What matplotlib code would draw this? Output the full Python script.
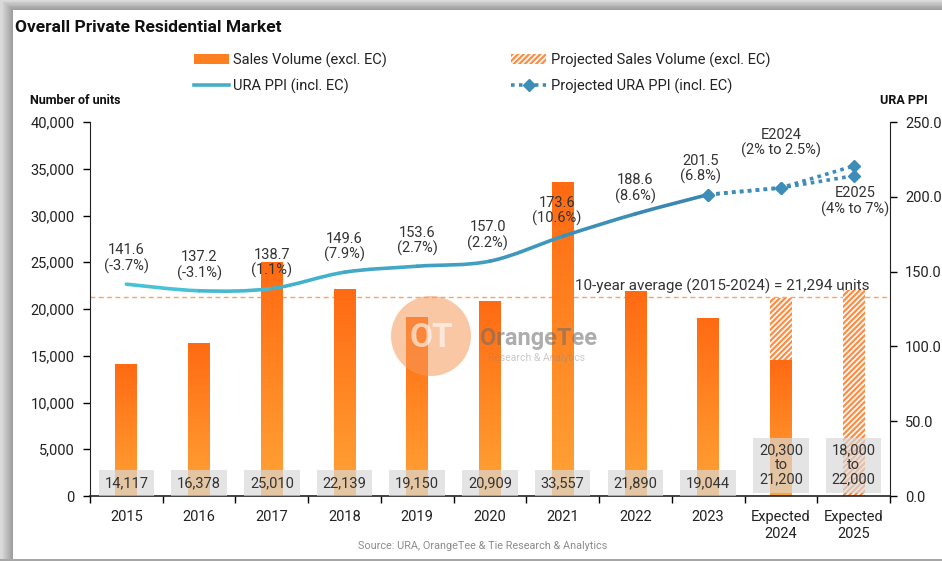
import numpy as np
import matplotlib
matplotlib.use("Agg")
import matplotlib.pyplot as plt
from matplotlib.patches import Rectangle, Patch, Circle, PathPatch
from matplotlib.lines import Line2D
from matplotlib.path import Path
from matplotlib.colors import LinearSegmentedColormap, to_rgb

plt.rcParams['font.family'] = ['Roboto', 'DejaVu Sans']
plt.rcParams['hatch.linewidth'] = 1.6

# ---- data ----
categories = ['2015', '2016', '2017', '2018', '2019', '2020', '2021', '2022', '2023',
              'Expected\n2024', 'Expected\n2025']
sales = [14117, 16378, 25010, 22139, 19150, 20909, 33557, 21890, 19044, 14500, 0]
projected_top = [None] * 9 + [21200, 22000]
sales_labels = ['14,117', '16,378', '25,010', '22,139', '19,150', '20,909', '33,557',
                '21,890', '19,044', '20,300\nto\n21,200', '18,000\nto\n22,000']
ppi = [141.6, 137.2, 138.7, 149.6, 153.6, 157.0, 173.6, 188.6, 201.5]
ppi_change = ['-3.7%', '-3.1%', '1.1%', '7.9%', '2.7%', '2.2%', '10.6%', '8.6%', '6.8%']
ppi_proj_low = [201.5, 206.0, 214.0]
ppi_proj_high = [201.5, 206.0, 220.6]
avg_sales = 21294

# label nudges (layout only)
label_dx = [0, 0, 0, 0, 0, -0.03, -0.08, 0, -0.1]

fig = plt.figure(figsize=(9.42, 5.61), dpi=100)
W, H = 942, 561

# ---- frame with shadow ----
bg = fig.add_axes([0, 0, 1, 1], zorder=-5)
bg.set_xlim(0, W)
bg.set_ylim(H, 0)
bg.axis('off')
bg.add_patch(Rectangle((0, 0), W, H, color='#d9d9d9', lw=0))
for k in range(12):
    g = 0.86 - 0.022 * k
    bg.add_patch(Rectangle((1 + k, 0.8 * k), W, H, color=(g, g, g), lw=0))
bg.add_patch(Rectangle((13, 10), W, 549, color='white', lw=0))
bg.add_patch(Rectangle((0, 559), W, 2, color='#a6a6a6', lw=0))

ax = fig.add_axes([90 / W, 1 - 496 / H, 800 / W, 374 / H])
ax2 = ax.twinx()
ax.set_zorder(ax2.get_zorder() - 1)
ax.patch.set_visible(False)

x = np.arange(len(categories))
bw = 0.3

# gradient orange bars
orange = LinearSegmentedColormap.from_list('og', ['#FFA436', '#FF6A12'])
grad = np.linspace(0, 1, 256).reshape(-1, 1)
bars = ax.bar(x, sales, width=bw, color='#FF7F20', lw=0, zorder=2)
for b in bars:
    if b.get_height() <= 0:
        continue
    x0 = b.get_x()
    im = ax.imshow(grad, cmap=orange, origin='lower', aspect='auto', zorder=2.1,
                   extent=[x0, x0 + b.get_width(), 0, b.get_height()])
    im.set_clip_path(b)

# projected hatched parts
for i, top in enumerate(projected_top):
    if top is None:
        continue
    ax.bar(x[i], top - sales[i], bottom=sales[i], width=bw, color='white',
           edgecolor='#FF8C42', hatch='//////', lw=0, zorder=2)

ax.axhline(avg_sales, color='#FFA060', ls=(0, (3.5, 2.5)), lw=1, zorder=1.5)
ax.text(10.22, avg_sales + 350, '10-year average (2015-2024) = 21,294 units',
        ha='right', va='bottom', fontsize=11, color='#333333', zorder=6)

# value boxes at the base
for i, lab in enumerate(sales_labels):
    nl = lab.count('\n')
    ypos = 1400 if nl == 0 else 3300
    ax.text(x[i], ypos, lab, ha='center', va='center', fontsize=10.5,
            color='#333333', linespacing=1.05, zorder=5,
            bbox=dict(boxstyle='square,pad=0.4', fc='#D8D8D8', ec='none', alpha=0.68))

ax.set_xlim(-0.5, 10.5)
ax.set_ylim(0, 40000)
ax.set_yticks(np.arange(0, 40001, 5000))
ax.yaxis.set_major_formatter(matplotlib.ticker.FuncFormatter(lambda v, p: f'{int(v):,}'))
ax.set_xticks(x)
ax.set_xticklabels(categories, fontsize=10.5, color='#222222', linespacing=1.25)
ax.set_xticks(np.arange(-0.5, 10.6, 1), minor=True)
ax.tick_params(axis='x', which='major', length=0, pad=10)
ax.tick_params(axis='x', which='minor', length=5, width=1, direction='out')
ax.tick_params(axis='y', length=5, width=1, labelsize=10.5, labelcolor='#222222', pad=6)
for s in ['top', 'right']:
    ax.spines[s].set_visible(False)
ax.spines['left'].set_color('#222222')
ax.spines['bottom'].set_color('#222222')
ax.spines['bottom'].set_linewidth(1.2)

# ---- URA PPI smooth line ----
ax2.set_ylim(0, 250)
ax2.set_yticks(np.arange(0, 251, 50))
ax2.yaxis.set_major_formatter(matplotlib.ticker.FormatStrFormatter('%.1f'))
ax2.tick_params(axis='y', length=5, width=1, labelsize=10.5, labelcolor='#222222', pad=6)
for s in ['top', 'left', 'bottom']:
    ax2.spines[s].set_visible(False)
ax2.spines['right'].set_color('#222222')

n = len(ppi)
px = x[:n].astype(float)
t = 1 / 6
c_start, c_end = np.array(to_rgb('#48C2D4')), np.array(to_rgb('#3B86B2'))
for i in range(n - 1):
    i0 = max(i - 1, 0)
    i3 = min(i + 2, n - 1)
    c1 = (px[i] + (px[i + 1] - px[i0]) * t, ppi[i] + (ppi[i + 1] - ppi[i0]) * t)
    c2 = (px[i + 1] - (px[i3] - px[i]) * t, ppi[i + 1] - (ppi[i3] - ppi[i]) * t)
    path = Path([(px[i], ppi[i]), c1, c2, (px[i + 1], ppi[i + 1])],
                [Path.MOVETO, Path.CURVE4, Path.CURVE4, Path.CURVE4])
    col = c_start + (c_end - c_start) * i / (n - 2)
    ax2.add_patch(PathPatch(path, fill=False, edgecolor=col, lw=2.6,
                            capstyle='round', zorder=3))

proj_x = x[8:]
for series in (ppi_proj_low, ppi_proj_high):
    ax2.plot(proj_x, series, ls=(0, (1, 1.2)), lw=2.6, color='#3D8DB8',
             marker='D', markersize=6.5, zorder=3)

for i in range(n):
    ax2.text(x[i] + label_dx[i], ppi[i] + 17, f'{ppi[i]:.1f}\n({ppi_change[i]})',
             ha='center', va='center', fontsize=10.5, color='#333333',
             linespacing=1.1, zorder=6)
ax2.text(9.0, 236, 'E2024\n(2% to 2.5%)', ha='center', va='center', fontsize=10.5,
         color='#333333', linespacing=1.1, zorder=6)
ax2.text(10.02, 197, 'E2025\n(4% to 7%)', ha='center', va='center', fontsize=10.5,
         color='#333333', linespacing=1.1, zorder=6)

# ---- watermark ----
wm = fig.add_axes([0, 0, 1, 1], zorder=10)
wm.set_xlim(0, W)
wm.set_ylim(H, 0)
wm.axis('off')
wm.add_patch(Circle((431, 336), 40, color='#F79A5B', alpha=0.55, lw=0))
wm.text(431, 338, 'OT', ha='center', va='center', fontsize=24, fontweight='bold',
        color='white', alpha=0.6)
wm.text(480, 338, 'OrangeTee', ha='left', va='center', fontsize=17, fontweight='bold',
        color='#6b6b6b', alpha=0.55)
wm.text(488, 358, 'Research & Analytics', ha='left', va='center', fontsize=7.5,
        color='#8a8a8a', alpha=0.45)

# ---- titles, legend, source ----
fig.text(15 / W, 1 - 28 / H, 'Overall Private Residential Market', fontsize=12.5,
         fontweight='bold', color='#111111', va='center', ha='left')
fig.text(30 / W, 1 - 100 / H, 'Number of units', fontsize=9, fontweight='bold',
         color='#111111', va='center', ha='left')
fig.text(928 / W, 1 - 100 / H, 'URA PPI', fontsize=9, fontweight='bold',
         color='#111111', va='center', ha='right')
fig.text(483 / W, 1 - 546 / H, 'Source: URA, OrangeTee & Tie Research & Analytics',
         fontsize=7.8, color='#8c8c8c', ha='center', va='center')

handles = [Patch(facecolor='#FF7F20', edgecolor='none'),
           Line2D([0], [0], color='#45AFCB', lw=2.6),
           Patch(facecolor='white', edgecolor='#FF8C42', hatch='//////', lw=0),
           Line2D([0], [0], color='#3D8DB8', lw=2.6, ls=(0, (1, 1.2)), marker='D',
                  markersize=6)]
labels = ['Sales Volume (excl. EC)', 'URA PPI (incl. EC)',
          'Projected Sales Volume (excl. EC)', 'Projected URA PPI (incl. EC)']
fig.legend(handles, labels, ncol=2, loc='center', bbox_to_anchor=(482 / W, 1 - 73 / H),
           frameon=False, fontsize=10.5, handlelength=2.4, handletextpad=0.3,
           columnspacing=8.5, labelspacing=0.75, labelcolor='#222222')

fig.savefig('out.png', dpi=100)
